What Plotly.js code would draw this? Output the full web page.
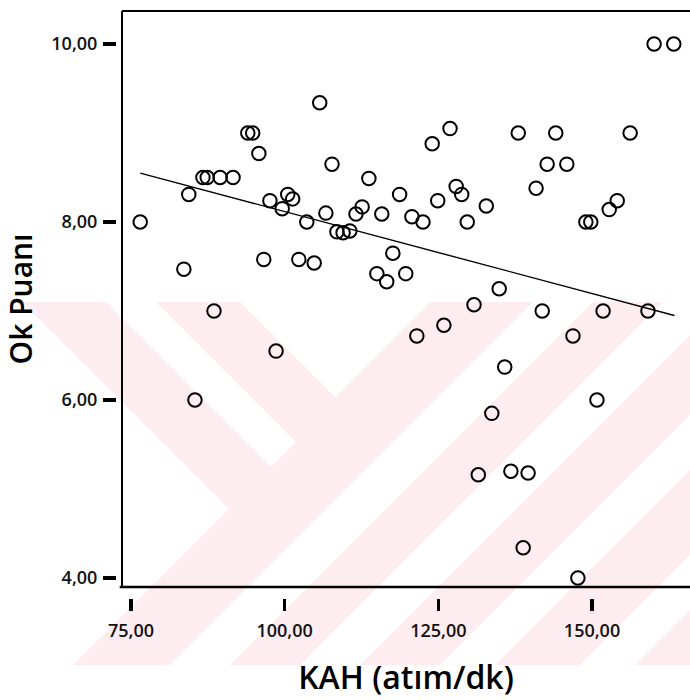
<!DOCTYPE html>
<html>
<head>
<meta charset="utf-8">
<script src="https://cdn.plot.ly/plotly-3.0.1.min.js"></script>
<style>
html,body{margin:0;padding:0;background:#fff;}
#chart{width:690px;height:700px;}
</style>
</head>
<body>
<div id="chart"></div>
<script>
// ---- data ----
const kah = [76.5, 83.6, 84.4, 85.4, 86.7, 87.4, 88.5, 89.5, 91.6, 94.0,
             94.8, 95.8, 96.6, 97.6, 98.6, 99.6, 100.5, 101.3, 102.3, 103.6,
             104.8, 105.7, 106.7, 107.7, 108.5, 109.5, 110.6, 111.6, 112.6, 113.7,
             115.0, 115.8, 116.6, 117.6, 118.7, 119.7, 120.7, 121.5, 122.5, 124.0,
             124.9, 125.9, 126.9, 127.9, 128.8, 129.7, 130.8, 131.5, 132.8, 133.7,
             134.9, 135.8, 136.8, 138.0, 138.8, 139.6, 140.9, 141.9, 142.7, 144.1,
             145.9, 146.9, 147.7, 149.0, 149.8, 150.8, 151.8, 152.8, 154.1, 156.2,
             159.1, 160.1, 163.3];
const okPuani = [8.00, 7.47, 8.31, 6.00, 8.50, 8.50, 7.00, 8.50, 8.50, 9.00,
                 9.00, 8.77, 7.58, 8.24, 6.55, 8.15, 8.31, 8.26, 7.58, 8.00,
                 7.54, 9.34, 8.10, 8.65, 7.89, 7.88, 7.90, 8.09, 8.17, 8.49,
                 7.42, 8.09, 7.33, 7.65, 8.31, 7.42, 8.06, 6.72, 8.00, 8.88,
                 8.24, 6.84, 9.05, 8.40, 8.31, 8.00, 7.07, 5.16, 8.18, 5.85,
                 7.25, 6.37, 5.20, 9.00, 4.34, 5.18, 8.38, 7.00, 8.65, 9.00,
                 8.65, 6.72, 4.00, 8.00, 8.00, 6.00, 7.00, 8.14, 8.24, 9.00,
                 7.00, 10.00, 10.00];
const fitX = [76.5, 163.4];
const fitY = [8.55, 6.95];
const xTickVals = [75, 100, 125, 150];
const xTickText = ['75,00', '100,00', '125,00', '150,00'];
const yTickVals = [4, 6, 8, 10];
const yTickText = ['4,00', '6,00', '8,00', '10,00'];
const xTitle = 'KAH (atım/dk)';
const yTitle = 'Ok Puanı';

// ---- geometry helpers (page pixels -> paper fractions) ----
const W = 690, H = 700;
const mL = 116, mR = 0, mT = 11, mB = 102;
const pw = W - mL - mR, ph = H - mT - mB;
const xDom0 = (122 - mL) / pw;      // left frame line
const yDom0 = (H - mB - 587) / ph;  // bottom frame line
function px(x){ return (x - mL) / pw; }
function py(y){ return (H - mB - y) / ph; }
function poly(pts, color){
  const d = 'M' + pts.map(p => px(p[0]).toFixed(5) + ',' + py(p[1]).toFixed(5)).join('L') + 'Z';
  return {type:'path', xref:'paper', yref:'paper', path:d, fillcolor:color,
          line:{width:0}, layer:'below'};
}
const pink = '#feedf0', white = '#ffffff';
function slash(a, b){
  // watermark band x+y in [a,b], inside y 302..665, x <= 690
  const top = 302, bot = 665, R = 690;
  const aTop = [a - top, top], bTop = [b - top, top];
  const p1 = aTop[0] > R ? [R, a - R] : aTop;
  const p2 = bTop[0] > R ? [R, b - R] : bTop;
  const pts = [p1];
  if (aTop[0] <= R && bTop[0] > R) pts.push([R, top]);
  pts.push(p2);
  pts.push([b - bot, bot]);
  pts.push([a - bot, bot]);
  return pts;
}
const shapes = [
  poly([[22,302],[690,302],[690,665],[73,665],[229,509]], pink),
  poly([[106,302],[156,302],[296,442],[271,467]], white),
  poly([[240,302],[430,302],[335,397]], white),
  poly(slash(835, 895), white),
  poly(slash(965, 1025), white),
  poly(slash(1105, 1160), white),
  poly(slash(1245, 1300), white),
  // frame lines
  {type:'line', xref:'paper', yref:'paper', x0:xDom0, x1:1, y0:1, y1:1, line:{color:'#000', width:2}},
  {type:'line', xref:'paper', yref:'paper', x0:xDom0, x1:xDom0, y0:yDom0, y1:1, line:{color:'#000', width:2}},
  {type:'line', xref:'paper', yref:'paper', x0:xDom0 - 0.004, x1:1, y0:yDom0, y1:yDom0, line:{color:'#000', width:2.5}}
];

const tickFont = {family:'Open Sans, Lato, sans-serif', size:18, color:'#111', weight:600};
const titleFont = {family:'Open Sans, Lato, sans-serif', size:30, color:'#000', weight:600};

const traces = [
  {x: kah, y: okPuani, type:'scatter', mode:'markers', showlegend:false,
   marker:{symbol:'circle-open', size:13.5, color:'#000', line:{width:2, color:'#000'}},
   cliponaxis:false, hoverinfo:'x+y'},
  {x: fitX, y: fitY, type:'scatter', mode:'lines', showlegend:false,
   line:{color:'#000', width:1.4}, hoverinfo:'skip'}
];

const layout = {
  width: W, height: H,
  margin:{l:mL, r:mR, t:mT, b:mB, pad:0},
  paper_bgcolor:'#fff', plot_bgcolor:'rgba(0,0,0,0)',
  showlegend:false,
  xaxis:{
    domain:[xDom0, 1], anchor:'free', position:0,
    range:[73.536, 165.94], showgrid:false, zeroline:false, showline:false,
    tickmode:'array', tickvals:xTickVals, ticktext:xTickText,
    ticks:'outside', ticklen:12, tickwidth:3.5, tickcolor:'#000',
    ticklabelstandoff:4, tickfont:tickFont,
    title:{text:xTitle, font:{family:titleFont.family, size:32, color:'#000', weight:600}, standoff:26}
  },
  yaxis:{
    domain:[yDom0, 1], anchor:'free', position:0,
    range:[3.899, 10.371], showgrid:false, zeroline:false, showline:false,
    tickmode:'array', tickvals:yTickVals, ticktext:yTickText,
    ticks:'outside', ticklen:13, tickwidth:3.5, tickcolor:'#000',
    ticklabelstandoff:2, tickfont:tickFont,
    title:{text:yTitle, font:titleFont, standoff:10}
  },
  shapes: shapes
};

Plotly.newPlot('chart', traces, layout, {displayModeBar:false, staticPlot:true});
</script>
</body>
</html>
